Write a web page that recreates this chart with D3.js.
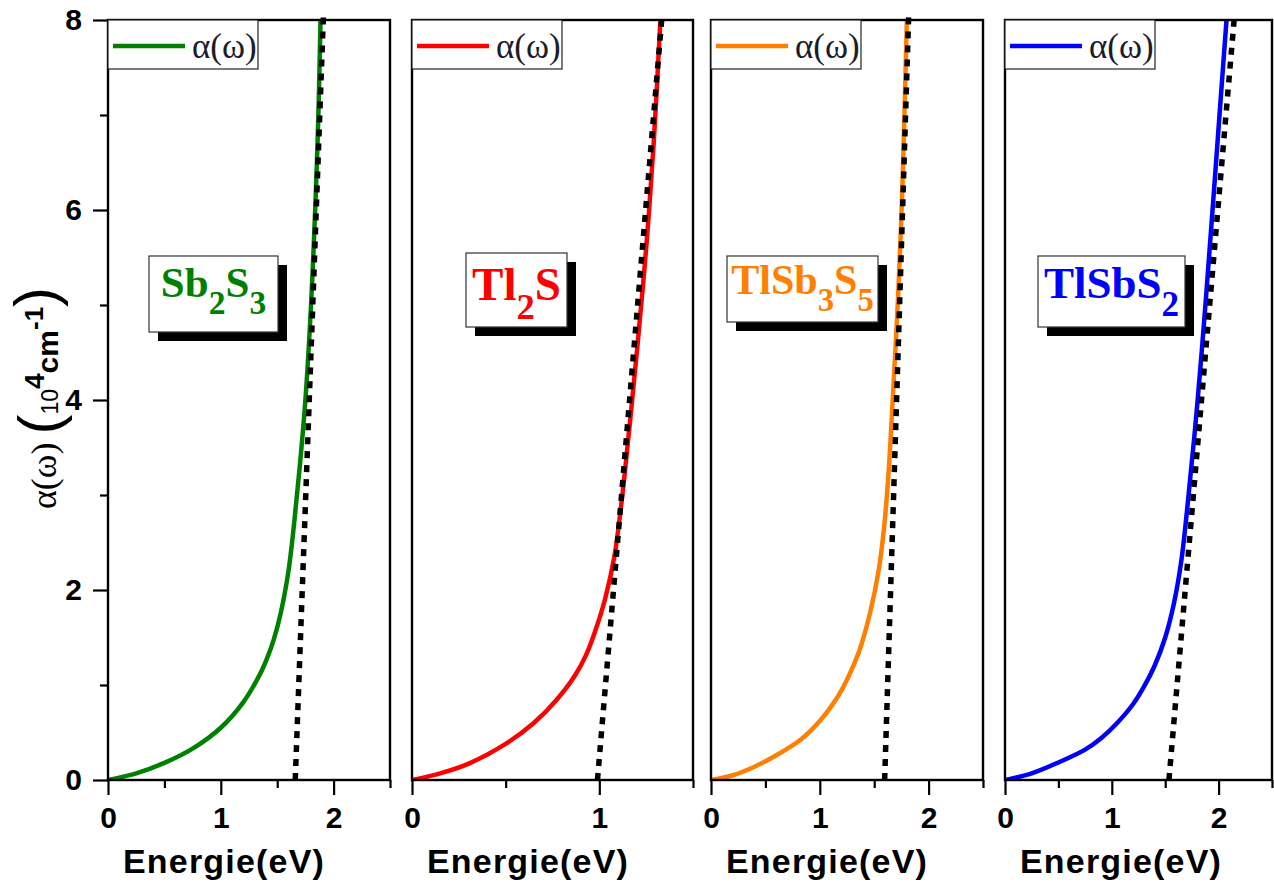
<!DOCTYPE html>
<html><head><meta charset="utf-8">
<script src="https://cdn.jsdelivr.net/npm/d3@7"></script>
<style>body{margin:0;background:#fff}svg{display:block}</style>
</head><body>
<svg id="chart" width="1274" height="885"></svg>
<script>
// Absorption coefficient α(ω) (10^4 cm^-1) versus photon energy, four compounds,
// each with a linear extrapolation (dotted) to the energy axis.

const materials = ["Sb2S3", "Tl2S", "TlSb3S5", "TlSbS2"];
const seriesColors = ["#008000", "#ff0000", "#ff8000", "#0000ff"];
const energyMax = [2.5, 1.5, 2.5, 2.5];
const energyTickLabels = [[0, 1, 2], [0, 1], [0, 1, 2], [0, 1, 2]];
const alphaTickLabels = [0, 2, 4, 6, 8];
const legendLabel = "α(ω)";
const xAxisTitle = "Energie(eV)";

// α(ω) curves, energy in eV, α in 10^4 cm^-1
const sb2s3Energy = [0, 0.25, 0.5, 0.75, 1.0, 1.2, 1.35, 1.41, 1.47, 1.53, 1.6, 1.65, 1.7, 1.75, 1.8, 1.84, 1.865, 1.884];
const sb2s3Alpha  = [0, 0.07, 0.18, 0.33, 0.55, 0.82, 1.12, 1.28, 1.48, 1.75, 2.2, 2.7, 3.3, 4.0, 5.0, 6.1, 7.0, 8.0];
const tl2sEnergy  = [0, 0.15, 0.3, 0.5, 0.65, 0.77, 0.87, 0.93, 0.98, 1.03, 1.08, 1.12, 1.16, 1.2, 1.25, 1.29, 1.326];
const tl2sAlpha   = [0, 0.07, 0.17, 0.38, 0.6, 0.84, 1.1, 1.32, 1.58, 1.9, 2.35, 2.95, 3.7, 4.5, 5.6, 6.7, 8.0];
const tlsb3s5Energy = [0, 0.2, 0.4, 0.6, 0.82, 1.0, 1.15, 1.26, 1.36, 1.46, 1.54, 1.59, 1.63, 1.67, 1.72, 1.755, 1.78, 1.8];
const tlsb3s5Alpha  = [0, 0.05, 0.14, 0.26, 0.42, 0.62, 0.85, 1.08, 1.35, 1.75, 2.2, 2.65, 3.2, 4.0, 5.1, 6.1, 7.1, 8.0];
const tlsbs2Energy = [0, 0.25, 0.51, 0.75, 0.9, 1.05, 1.2, 1.3, 1.4, 1.5, 1.58, 1.65, 1.71, 1.8, 1.88, 1.95, 2.015, 2.074];
const tlsbs2Alpha  = [0, 0.07, 0.19, 0.32, 0.44, 0.6, 0.8, 0.98, 1.2, 1.5, 1.85, 2.3, 2.9, 3.95, 5.05, 6.1, 7.1, 8.0];

// Linear fits: energy at α = 0 and at α = 8.05
const fitEnergy = [[1.66, 1.91], [0.99, 1.335], [1.596, 1.817], [1.535, 2.149]];
const fitAlpha = [0, 8.05];

const curves = [
  [sb2s3Energy, sb2s3Alpha],
  [tl2sEnergy, tl2sAlpha],
  [tlsb3s5Energy, tlsb3s5Alpha],
  [tlsbs2Energy, tlsbs2Alpha]
];

// compound labels as [text, isSubscript]
const labelParts = [
  [["Sb", 0], ["2", 1], ["S", 0], ["3", 1]],
  [["Tl", 0], ["2", 1], ["S", 0]],
  [["TlSb", 0], ["3", 1], ["S", 0], ["5", 1]],
  [["TlSbS", 0], ["2", 1]]
];

// ---- layout ----
const panels = [
  {x0: 108, x1: 390, box: {dx: 41, y: 256, w: 129, h: 76, fs: 43, base: 297}},
  {x0: 412, x1: 693, box: {dx: 54, y: 253, w: 101, h: 74, fs: 47, base: 300}},
  {x0: 711, x1: 983, box: {dx: 16, y: 256, w: 151, h: 66, fs: 42, base: 294}},
  {x0: 1005, x1: 1272, box: {dx: 33, y: 256, w: 147, h: 71, fs: 45, base: 298}}
];
const plotTop = 20, plotBottom = 780;
const sansBold = "'Liberation Sans', Arial, sans-serif";
const serif = "'Liberation Serif', 'Times New Roman', serif";

const svg = d3.select("#chart");
const y = d3.scaleLinear().domain([0, 8]).range([plotBottom, plotTop]);

panels.forEach((p, i) => {
  const x = d3.scaleLinear().domain([0, energyMax[i]]).range([p.x0, p.x1]);
  const g = svg.append("g");
  const color = seriesColors[i];

  g.append("clipPath").attr("id", "clip" + i)
    .append("rect").attr("x", p.x0).attr("y", plotTop)
    .attr("width", p.x1 - p.x0).attr("height", plotBottom - plotTop);

  // x axis: major ticks at integers, minor at halves
  const majors = d3.range(0, energyMax[i] + 1e-9, 1);
  const minors = d3.range(0.5, energyMax[i] + 1e-9, 1);
  const xAxis = g.append("g").attr("transform", `translate(0,${plotBottom})`)
    .call(d3.axisBottom(x).tickValues(majors).tickSize(15).tickPadding(12)
      .tickFormat(d => energyTickLabels[i].includes(d) ? d3.format("d")(d) : ""));
  xAxis.select(".domain").remove();
  xAxis.selectAll("line").attr("stroke", "#000").attr("stroke-width", 2.2);
  xAxis.selectAll("text").attr("font-family", sansBold).attr("font-weight", "bold")
    .attr("font-size", 30).attr("fill", "#000");
  const xMinor = g.append("g").attr("transform", `translate(0,${plotBottom})`)
    .call(d3.axisBottom(x).tickValues(minors).tickSize(8).tickFormat(""));
  xMinor.select(".domain").remove();
  xMinor.selectAll("line").attr("stroke", "#000").attr("stroke-width", 2.2);

  // y axis ticks only on the first panel
  if (i === 0) {
    const yAxis = g.append("g").attr("transform", `translate(${p.x0},0)`)
      .call(d3.axisLeft(y).tickValues(alphaTickLabels).tickSize(15).tickPadding(11)
        .tickFormat(d3.format("d")));
    yAxis.select(".domain").remove();
    yAxis.selectAll("line").attr("stroke", "#000").attr("stroke-width", 2.2);
    yAxis.selectAll("text").attr("font-family", sansBold).attr("font-weight", "bold")
      .attr("font-size", 30).attr("fill", "#000");
    const yMinor = g.append("g").attr("transform", `translate(${p.x0},0)`)
      .call(d3.axisLeft(y).tickValues([1, 3, 5, 7]).tickSize(8).tickFormat(""));
    yMinor.select(".domain").remove();
    yMinor.selectAll("line").attr("stroke", "#000").attr("stroke-width", 2.2);
  }

  // data curve
  const [eArr, aArr] = curves[i];
  const pts = eArr.map((e, k) => [e, aArr[k]]);
  const line = d3.line().x(d => x(d[0])).y(d => y(d[1])).curve(d3.curveCatmullRom.alpha(0.5));
  g.append("path").datum(pts).attr("d", line)
    .attr("clip-path", `url(#clip${i})`)
    .attr("fill", "none").attr("stroke", color).attr("stroke-width", 4.5);

  // dotted linear fit
  const fit = fitEnergy[i].map((e, k) => [e, fitAlpha[k]]);
  g.append("path").datum(fit).attr("d", d3.line().x(d => x(d[0])).y(d => y(d[1])))
    .attr("fill", "none").attr("stroke", "#000").attr("stroke-width", 5.5)
    .attr("stroke-dasharray", "7,7");

  // frame
  g.append("rect").attr("x", p.x0).attr("y", plotTop)
    .attr("width", p.x1 - p.x0).attr("height", plotBottom - plotTop)
    .attr("fill", "none").attr("stroke", "#000").attr("stroke-width", 2.4);

  // legend
  const lg = g.append("g").attr("transform", `translate(${p.x0},${plotTop})`);
  lg.append("rect").attr("x", 0).attr("y", 0).attr("width", 150).attr("height", 49)
    .attr("fill", "#fff").attr("stroke", "#222").attr("stroke-width", 1.2);
  lg.append("line").attr("x1", 5).attr("x2", 77).attr("y1", 26).attr("y2", 26)
    .attr("stroke", color).attr("stroke-width", 4.5);
  lg.append("text").attr("x", 84).attr("y", 38).text(legendLabel)
    .attr("font-family", serif).attr("font-size", 35).attr("fill", "#1c1c28");

  // compound label with drop shadow
  const b = p.box, bx = p.x0 + b.dx;
  g.append("rect").attr("x", bx + 9).attr("y", b.y + 9).attr("width", b.w).attr("height", b.h)
    .attr("fill", "#000");
  g.append("rect").attr("x", bx).attr("y", b.y).attr("width", b.w).attr("height", b.h)
    .attr("fill", "#fff").attr("stroke", "#333").attr("stroke-width", 1.2);
  const t = g.append("text").attr("x", bx + b.w / 2).attr("y", b.base)
    .attr("text-anchor", "middle").attr("font-family", serif).attr("font-weight", "bold")
    .attr("font-size", b.fs).attr("fill", color);
  const shift = b.fs * 0.4;
  let shifted = false;
  labelParts[i].forEach(([s, sub]) => {
    const ts = t.append("tspan").text(s);
    if (sub) { ts.attr("dy", shifted ? 0 : shift).attr("font-size", b.fs * 0.78); shifted = true; }
    else if (shifted) { ts.attr("dy", -shift); shifted = false; }
  });

  // x axis title
  g.append("text").attr("x", p.x0 + 116).attr("y", 873).attr("text-anchor", "middle")
    .attr("font-family", sansBold).attr("font-weight", "bold").attr("font-size", 34)
    .attr("letter-spacing", 1.2).attr("fill", "#000").text(xAxisTitle);
});

// y axis title
const yt = svg.append("text")
  .attr("transform", "translate(56,398) rotate(-90)")
  .attr("text-anchor", "middle").attr("fill", "#000");
yt.append("tspan").attr("font-family", serif).attr("font-size", 36).text("α(ω)");
yt.append("tspan").attr("font-family", sansBold).attr("font-size", 60).attr("dx", 8).attr("dy", 4).text("(");
yt.append("tspan").attr("font-family", sansBold).attr("font-size", 23).attr("dy", -2).text("10");
yt.append("tspan").attr("font-family", sansBold).attr("font-weight", "bold").attr("font-size", 28).attr("dy", -14).text("4");
yt.append("tspan").attr("font-family", sansBold).attr("font-weight", "bold").attr("font-size", 30).attr("dy", 14).text("cm");
yt.append("tspan").attr("font-family", sansBold).attr("font-weight", "bold").attr("font-size", 26).attr("dy", -15).text("-1");
yt.append("tspan").attr("font-family", sansBold).attr("font-size", 60).attr("dy", 13).text(")");
</script>
</body></html>
